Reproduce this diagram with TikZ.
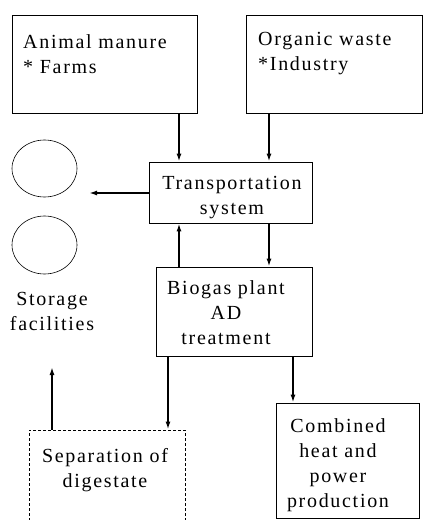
\documentclass[tikz,border=0pt]{standalone}
\usepackage{fontspec}
\setmainfont{Liberation Serif}[LetterSpace=8.5]
\usetikzlibrary{arrows.meta,shapes.geometric}
\begin{document}
\begin{tikzpicture}[x=1pt,y=-1pt,
  box/.style={draw,line width=0.8pt,inner sep=0pt},
  dbox/.style={draw,line width=0.9pt,inner sep=0pt,dash pattern=on 3pt off 2pt},
  oval/.style={draw,ellipse,line width=0.6pt,inner sep=0pt,minimum width=65pt},
  txt/.style={inner sep=0pt,font=\fontsize{20pt}{25pt}\selectfont},
  arr/.style={line width=1.6pt,-{Latex[length=8pt,width=5pt]}}]
\clip (0,0) rectangle (423,520);
% boxes
\node[box,minimum width=185pt,minimum height=98pt] (animal) at (104.5,64) {};
\node[box,minimum width=176pt,minimum height=98pt] (organic) at (334.5,64) {};
\node[box,minimum width=163pt,minimum height=61pt] (transport) at (230.5,192.5) {};
\node[box,minimum width=156pt,minimum height=89pt] (biogas) at (234,311.5) {};
\node[box,minimum width=143pt,minimum height=115pt] (chp) at (347.5,460.5) {};
\node[dbox,minimum width=156pt,minimum height=120pt] (sep) at (107,490) {};
\node[oval,minimum height=57pt] (st1) at (44.5,168.5) {};
\node[oval,minimum height=58pt] (st2) at (44.5,245) {};
% texts
\node[txt,align=left,anchor=west] (animaltxt) at (23,54) {Animal manure\\* Farms};
\node[txt,align=left,anchor=west] (organictxt) at (258,54) {Organic waste\\*Industry};
\node[txt,align=center] (transporttxt) at (232,197.5) {Transportation\\system};
\node[txt,align=center] (biogastxt) at (226,313) {Biogas plant\\AD\\treatment};
\node[txt,align=center] (storagetxt) at (52,311.5) {Storage\\facilities};
\node[txt,align=center] (septxt) at (105,470) {Separation of\\digestate};
\node[txt,align=center] (chptxt) at (338,465) {Combined\\heat and\\power\\production};
% connectors
\coordinate (stend) at (89,193);
\coordinate (upend) at (52,367);
\draw[arr] ([xshift=74.5pt]animal.south) -- ([xshift=-51.5pt]transport.north);
\draw[arr] ([xshift=-65.5pt]organic.south) -- ([xshift=38.5pt]transport.north);
\draw[arr] (transport.west |- stend) -- (stend);
\draw[arr] ([xshift=-55pt]biogas.north) -- ([xshift=-51.5pt]transport.south);
\draw[arr] ([xshift=38.5pt]transport.south) -- ([xshift=35pt]biogas.north);
\draw[arr] ([xshift=-66pt]biogas.south) -- ([xshift=61pt]sep.north);
\draw[arr] ([xshift=59pt]biogas.south) -- ([xshift=-54.5pt]chp.north);
\draw[arr] (sep.north -| upend) -- (upend);
\end{tikzpicture}
\end{document}
